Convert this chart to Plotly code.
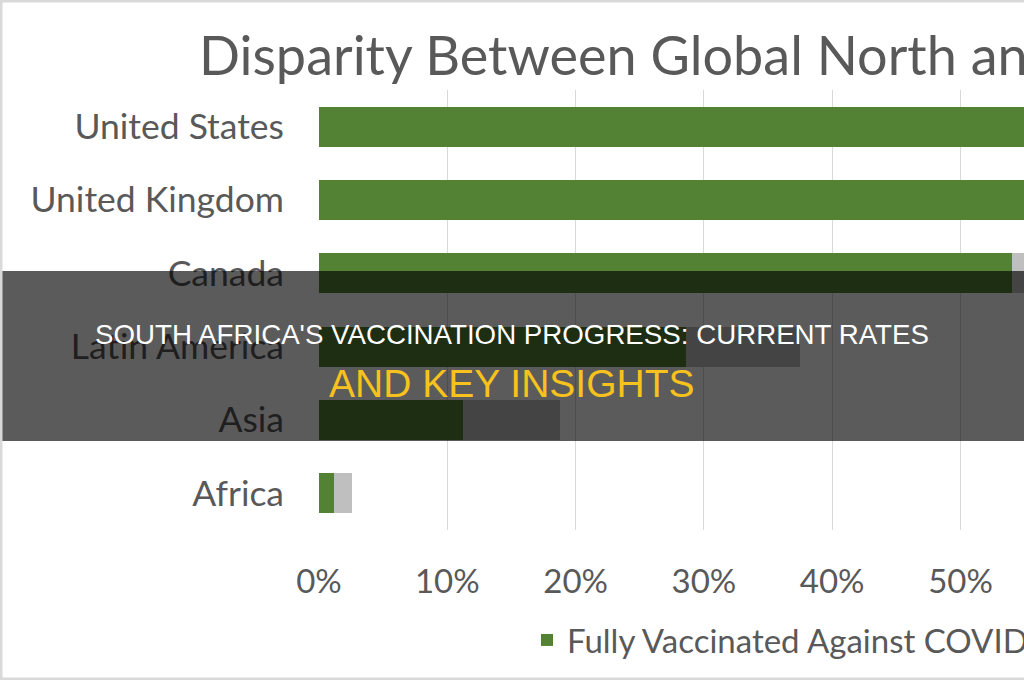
import plotly.graph_objects as go

countries = ["United States", "United Kingdom", "Canada", "Latin America", "Asia", "Africa"]
fully_vaccinated = [60.0, 66.0, 54.0, 28.6, 11.2, 1.2]
partially_vaccinated = [9.0, 7.0, 10.0, 8.9, 7.6, 1.35]
x_ticks = [0, 10, 20, 30, 40, 50, 60, 70, 80]
x_tick_labels = [f"{v}%" for v in x_ticks]

GREEN = "#548235"
GREY = "#BFBFBF"
TEXT = "#595959"
FONT = "Lato"

W, H = 1024, 680
L, T, B, R = 319, 90, 150, 0
pw, ph = W - L - R, H - T - B

fig = go.Figure()
fig.add_trace(go.Bar(
    y=countries, x=fully_vaccinated, orientation="h",
    name="Fully Vaccinated Against COVID-19", marker=dict(color=GREEN, line=dict(width=0)),
))
fig.add_trace(go.Bar(
    y=countries, x=partially_vaccinated, orientation="h",
    name="Partially Vaccinated Against COVID-19", marker=dict(color=GREY, line=dict(width=0)),
    showlegend=False,
))

def px_x(px):
    return (px - L) / pw

def px_y(py):
    return (H - B - py) / ph

shapes = [
    dict(type="rect", xref="paper", yref="paper",
         x0=px_x(0), x1=px_x(W), y0=px_y(441), y1=px_y(271),
         fillcolor="rgba(0,0,0,0.645)", line=dict(width=0), layer="above"),
    dict(type="rect", xref="paper", yref="paper",
         x0=px_x(1), x1=px_x(W + 5), y0=px_y(H - 1), y1=px_y(1),
         fillcolor="rgba(0,0,0,0)", line=dict(color="#D9D9D9", width=3), layer="above"),
]

annotations = [
    dict(text="SOUTH AFRICA'S VACCINATION PROGRESS: CURRENT RATES",
         xref="paper", yref="paper", x=px_x(512), y=px_y(334), xanchor="center", yanchor="middle",
         showarrow=False, font=dict(family="Liberation Sans", size=27.7, color="white")),
    dict(text="AND KEY INSIGHTS",
         xref="paper", yref="paper", x=px_x(512), y=px_y(383), xanchor="center", yanchor="middle",
         showarrow=False, font=dict(family="Liberation Sans", size=39, color="#F7C21D")),
]

fig.update_layout(
    width=W, height=H,
    margin=dict(l=L, r=R, t=T, b=B, pad=0),
    paper_bgcolor="white", plot_bgcolor="white",
    barmode="stack", bargap=0.455,
    font=dict(family=FONT, color=TEXT),
    title=dict(text="Disparity Between Global North and South in COVID-19 Vaccination",
               xref="container", yref="container", x=199 / W, y=1 - 56 / H,
               xanchor="left", yanchor="middle",
               font=dict(family=FONT, size=54, color=TEXT)),
    xaxis=dict(range=[0, (W - L) / 12.83], tickvals=x_ticks, ticktext=x_tick_labels,
               showgrid=True, gridcolor="#D9D9D9", gridwidth=1.3, zeroline=False,
               showline=False, ticks="", ticklabelstandoff=29,
               tickfont=dict(family=FONT, size=33, color=TEXT)),
    yaxis=dict(autorange="reversed", showgrid=False, showline=False, ticks="",
               ticklabelstandoff=34, tickfont=dict(family=FONT, size=35.5, color=TEXT)),
    legend=dict(orientation="h", xref="container", yref="container",
                x=(569 - 42) / W, y=1 - 640 / H, xanchor="left", yanchor="middle",
                font=dict(family=FONT, size=33, color=TEXT), bgcolor="rgba(0,0,0,0)"),
    shapes=shapes, annotations=annotations,
)

fig.write_html("out.html")
